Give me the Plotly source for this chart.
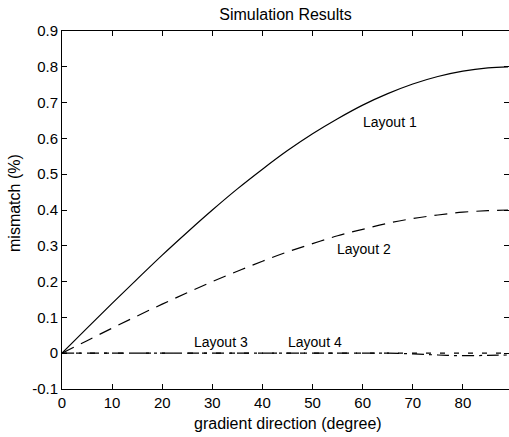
import plotly.graph_objects as go

angles = [0, 5, 10, 15, 20, 25, 30, 35, 40, 45, 50, 55, 60, 65, 70, 75, 80, 85, 89]
layout1 = [0, 0.070, 0.139, 0.207, 0.274, 0.338, 0.400, 0.459, 0.514, 0.566, 0.613, 0.655, 0.693, 0.725, 0.752, 0.773, 0.788, 0.797, 0.800]
layout2 = [0, 0.035, 0.070, 0.104, 0.137, 0.169, 0.200, 0.229, 0.257, 0.283, 0.306, 0.328, 0.346, 0.363, 0.376, 0.386, 0.394, 0.398, 0.400]
layout3 = [0, 0, 0, 0, 0, 0, 0, 0, 0, 0, 0, 0, 0, 0, 0, 0, 0, 0, 0]
layout4 = [0, 0, 0, 0, 0, 0, 0, 0, 0, 0, 0, 0, 0, 0, -0.002, -0.005, -0.007, -0.006, -0.005]

x_ticks = [0, 10, 20, 30, 40, 50, 60, 70, 80]
y_ticks = [-0.1, 0, 0.1, 0.2, 0.3, 0.4, 0.5, 0.6, 0.7, 0.8, 0.9]
y_tick_text = ["-0.1", "0", "0.1", "0.2", "0.3", "0.4", "0.5", "0.6", "0.7", "0.8", "0.9"]

labels = ["Layout 1", "Layout 2", "Layout 3", "Layout 4"]
label_x = [65.5, 60.3, 31.7, 50.5]
label_y = [0.645, 0.29, 0.03, 0.03]

FONT = "Liberation Sans, Arial, Helvetica, sans-serif"

fig = go.Figure()
fig.add_trace(go.Scatter(x=angles, y=layout1, mode="lines", line=dict(color="black", width=1.2, shape="spline"), name="Layout 1"))
fig.add_trace(go.Scatter(x=angles, y=layout2, mode="lines", line=dict(color="black", width=1.2, dash="13px,8px", shape="spline"), name="Layout 2"))
fig.add_trace(go.Scatter(x=angles, y=layout3, mode="lines", line=dict(color="black", width=1.2, dash="5px,9px"), name="Layout 3"))
fig.add_trace(go.Scatter(x=angles, y=layout4, mode="lines", line=dict(color="black", width=1.2, dash="12px,5px,3px,5px", shape="spline"), name="Layout 4"))

for t, xx, yy in zip(labels, label_x, label_y):
    fig.add_annotation(x=xx, y=yy, text=t, showarrow=False, font=dict(family=FONT, size=14, color="black"))

# axis titles as paper annotations for precise placement (pixel positions converted below)
fig.add_annotation(x=288, y=423, xref="paper", yref="paper", text="gradient direction (degree)", showarrow=False,
                   xanchor="center", yanchor="middle", font=dict(family=FONT, size=16, color="black"))
fig.add_annotation(x=14, y=203, xref="paper", yref="paper", text="mismatch (%)", textangle=-90, showarrow=False,
                   xanchor="center", yanchor="middle", font=dict(family=FONT, size=16, color="black"))

L, R, T, B = 62, 0, 31, 48
W, H = 509, 437
pw, ph = W - L - R, H - T - B
for a in fig.layout.annotations:
    if a.xref == "paper":
        a.x = (a.x - L) / pw
        a.y = (H - B - a.y) / ph

fig.update_layout(
    width=W, height=H,
    margin=dict(l=L, r=R, t=T, b=B, autoexpand=False),
    paper_bgcolor="white", plot_bgcolor="white",
    showlegend=False,
    font=dict(family=FONT, size=15, color="black"),
    title=dict(text="Simulation Results", x=285.5 / W, xref="container", xanchor="center", y=1 - 14 / H, yanchor="middle",
               font=dict(family=FONT, size=16, color="black")),
    xaxis=dict(range=[0, 89.2], tickvals=x_ticks, ticks="inside", ticklen=5, tickcolor="black", automargin=False,
               showline=True, linecolor="black", linewidth=1, mirror="ticks", showgrid=False, zeroline=False,
               tickfont=dict(size=15)),
    yaxis=dict(range=[-0.1, 0.9], tickvals=y_ticks, ticktext=y_tick_text, ticks="inside", ticklen=5, tickcolor="black", automargin=False,
               showline=True, linecolor="black", linewidth=1, mirror="ticks", showgrid=False, zeroline=False,
               tickfont=dict(size=15)),
)

fig.write_html("out.html", config={"displayModeBar": False}, post_script="document.body.style.margin='0';")
